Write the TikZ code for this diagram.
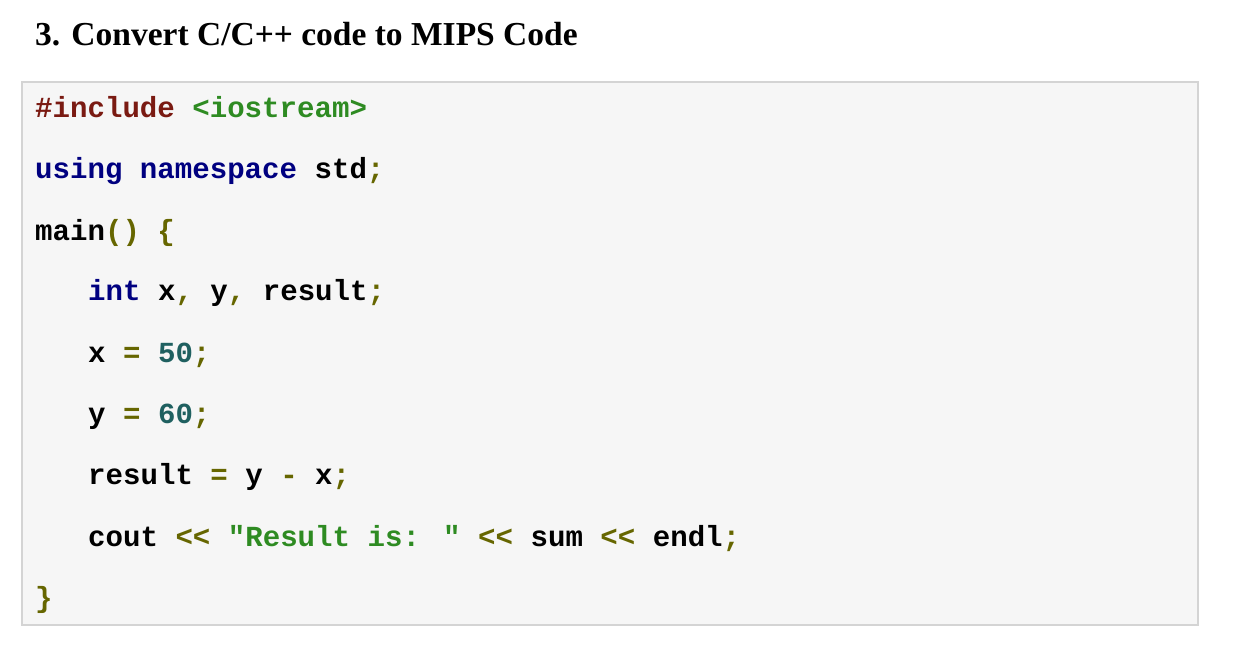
\documentclass[tikz,border=0pt]{standalone}
\usepackage{fontspec}
\setmainfont{Liberation Serif}
\newfontfamily\codefont{Liberation Mono}
\definecolor{pp}{HTML}{7A1A12}
\definecolor{str}{HTML}{2E8B22}
\definecolor{kw}{HTML}{000080}
\definecolor{pun}{HTML}{666600}
\definecolor{num}{HTML}{1F6060}
\definecolor{boxfill}{HTML}{F6F6F6}
\definecolor{boxline}{HTML}{D4D4D4}
\newcommand{\cP}[1]{\textcolor{pp}{#1}}
\newcommand{\cS}[1]{\textcolor{str}{#1}}
\newcommand{\cK}[1]{\textcolor{kw}{#1}}
\newcommand{\cU}[1]{\textcolor{pun}{#1}}
\newcommand{\cN}[1]{\textcolor{num}{#1}}
\begin{document}
\begin{tikzpicture}[x=1pt,y=-1pt,
  code/.style={anchor=base west,inner sep=0pt,font=\codefont\fontsize{29.1}{30}\selectfont\bfseries}]
\useasboundingbox (0,0) rectangle (1236,648);
\node[anchor=base west,inner sep=0pt,font=\fontsize{33.5}{35}\selectfont\bfseries] (title) at (35,45) {3. Convert C/C++ code to MIPS Code};
\draw[boxline,fill=boxfill,line width=1.5pt] (22,82) rectangle (1198,625);
\node[code] (l1) at (35,117) {\cP{\#include} \cS{<iostream>}};
\node[code] (l2) at (35,178) {\cK{using} \cK{namespace} std\cU{;}};
\node[code] (l3) at (35,240) {main\cU{()} \cU{\{}};
\node[code] (l4) at (88,300) {\cK{int} x\cU{,} y\cU{,} result\cU{;}};
\node[code] (l5) at (88,362) {x \cU{=} \cN{50}\cU{;}};
\node[code] (l6) at (88,423) {y \cU{=} \cN{60}\cU{;}};
\node[code] (l7) at (88,484) {result \cU{=} y \cU{-} x\cU{;}};
\node[code] (l8) at (88,546) {cout \cU{<<} \cS{\string"Result is: \string"} \cU{<<} sum \cU{<<} endl\cU{;}};
\node[code] (l9) at (35,607) {\cU{\}}};
\end{tikzpicture}
\end{document}
